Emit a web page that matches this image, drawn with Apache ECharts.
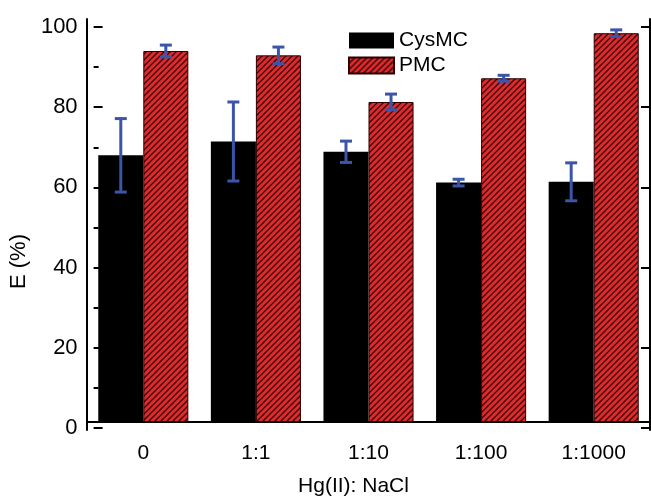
<!DOCTYPE html>
<html>
<head>
<meta charset="utf-8">
<script src="https://cdn.jsdelivr.net/npm/echarts@6/dist/echarts.min.js"></script>
<style>html,body{margin:0;padding:0;background:#fff}#c{width:651px;height:502px}</style>
</head>
<body>
<div id="c"></div>
<script>
const categories = ['0', '1:1', '1:10', '1:100', '1:1000'];
const cysmcValues = [67.5, 71.0, 68.4, 60.6, 60.8];
const cysmcErrors = [9.3, 10.0, 2.7, 0.85, 4.8];
const pmcValues = [93.9, 92.8, 81.0, 87.0, 98.4];
const pmcErrors = [1.5, 2.1, 2.0, 0.75, 0.85];
const yTickLabels = [0, 20, 40, 60, 80, 100];

const RED = '#ec2528';
const BLUE = '#3b55a8';
const FONT = 'Liberation Sans, Arial, sans-serif';

function hatch() {
  const s = 6;
  const cv = document.createElement('canvas');
  cv.width = s; cv.height = s;
  const ctx = cv.getContext('2d');
  ctx.fillStyle = RED;
  ctx.fillRect(0, 0, s, s);
  ctx.strokeStyle = '#111';
  ctx.lineWidth = 1.3;
  ctx.beginPath();
  ctx.moveTo(-1, s + 1); ctx.lineTo(s + 1, -1);
  ctx.moveTo(-1, 1); ctx.lineTo(1, -1);
  ctx.moveTo(s - 1, s + 1); ctx.lineTo(s + 1, s - 1);
  ctx.stroke();
  return cv;
}
const pattern = { image: hatch(), repeat: 'repeat' };

function errData(vals, errs) {
  return vals.map((v, i) => [i, v - errs[i], v + errs[i]]);
}
function errRender(side) {
  return function (params, api) {
    const i = api.value(0);
    const lo = api.coord([i, api.value(1)]);
    const hi = api.coord([i, api.value(2)]);
    const bw = api.size([1, 0])[0] * 0.4;
    const x = lo[0] + side * bw / 2;
    const cap = 6;
    const st = { stroke: BLUE, lineWidth: 3 };
    return {
      type: 'group',
      children: [
        { type: 'line', shape: { x1: x, y1: lo[1], x2: x, y2: hi[1] }, style: st },
        { type: 'line', shape: { x1: x - cap, y1: lo[1], x2: x + cap, y2: lo[1] }, style: st },
        { type: 'line', shape: { x1: x - cap, y1: hi[1], x2: x + cap, y2: hi[1] }, style: st }
      ]
    };
  };
}

const chart = echarts.init(document.getElementById('c'), null, { renderer: 'canvas' });
const lineStyle = { color: '#000', width: 2 };
const gridA = { left: 87, right: 1, top: 19, bottom: 66 };
const gridB = { left: 87, right: 1, top: 27, bottom: 74 };

chart.setOption({
  animation: false,
  backgroundColor: '#fff',
  textStyle: { fontFamily: FONT },
  grid: [gridA, gridB],
  legend: {
    orient: 'vertical',
    left: 348,
    top: 30,
    padding: 0,
    itemWidth: 45,
    itemHeight: 16,
    itemGap: 4,
    icon: 'rect',
    textStyle: { fontSize: 21, color: '#000', fontFamily: FONT },
    data: ['CysMC', 'PMC']
  },
  xAxis: [
    {
      type: 'category', gridIndex: 0, position: 'bottom', data: categories,
      axisLine: { lineStyle },
      axisTick: { inside: true, length: 6, lineStyle: { color: '#000', width: 2 } },
      axisLabel: { fontSize: 21, color: '#000', margin: 13, fontFamily: FONT },
      name: 'Hg(II): NaCl', nameLocation: 'middle', nameGap: 46,
      nameTextStyle: { fontSize: 21, color: '#000', fontFamily: FONT, padding: [0, 30, 0, 0] }
    },
    {
      type: 'category', gridIndex: 0, position: 'top', data: categories,
      axisLine: { lineStyle },
      axisTick: { inside: true, length: 3, lineStyle: { color: '#000', width: 2 } },
      axisLabel: { show: false }
    },
    {
      type: 'category', gridIndex: 0, position: 'top', data: categories,
      axisLine: { show: false },
      axisTick: { inside: true, alignWithLabel: true, length: 3, lineStyle: { color: '#000', width: 2 } },
      axisLabel: { show: false }
    },
    {
      type: 'category', gridIndex: 1, data: categories, show: false
    }
  ],
  yAxis: [
    {
      type: 'value', gridIndex: 0, min: -2, max: 102, position: 'left',
      axisLine: { show: true, lineStyle },
      axisTick: { show: false }, axisLabel: { show: false }, splitLine: { show: false }
    },
    {
      type: 'value', gridIndex: 0, min: -2, max: 102, position: 'right',
      axisLine: { show: true, lineStyle },
      axisTick: { show: false }, axisLabel: { show: false }, splitLine: { show: false }
    },
    {
      type: 'value', gridIndex: 1, min: yTickLabels[0], max: yTickLabels[yTickLabels.length - 1], interval: 20,
      position: 'left',
      axisLine: { show: false },
      axisTick: { show: true, inside: true, length: 9, lineStyle: { color: '#000', width: 2 } },
      minorTick: { show: true, splitNumber: 2, length: 5, lineStyle: { color: '#000', width: 2 } },
      axisLabel: { fontSize: 22, color: '#000', margin: 16, fontFamily: FONT },
      splitLine: { show: false },
      name: 'E (%)', nameLocation: 'middle', nameGap: 52, nameRotate: 90,
      nameTextStyle: { fontSize: 22, color: '#000', fontFamily: FONT, padding: [0, 68, 0, 0] }
    },
    {
      type: 'value', gridIndex: 1, min: 0, max: 100, interval: 20, position: 'right',
      axisLine: { show: false },
      axisTick: { show: true, inside: true, length: 9, lineStyle: { color: '#000', width: 2 } },
      axisLabel: { show: false }, splitLine: { show: false }
    }
  ],
  series: [
    {
      name: 'CysMC', type: 'bar', xAxisIndex: 0, yAxisIndex: 0,
      data: cysmcValues, barWidth: '40%', barGap: '0%',
      itemStyle: { color: '#000' }
    },
    {
      name: 'PMC', type: 'bar', xAxisIndex: 0, yAxisIndex: 0,
      data: pmcValues, barWidth: '40%', barGap: '0%',
      itemStyle: { color: pattern, borderColor: '#2a0000', borderWidth: 1 }
    },
    {
      name: 'CysMC err', type: 'custom', xAxisIndex: 0, yAxisIndex: 0, z: 5,
      renderItem: errRender(-1), data: errData(cysmcValues, cysmcErrors)
    },
    {
      name: 'PMC err', type: 'custom', xAxisIndex: 0, yAxisIndex: 0, z: 5,
      renderItem: errRender(1), data: errData(pmcValues, pmcErrors)
    }
  ]
});
</script>
</body>
</html>
